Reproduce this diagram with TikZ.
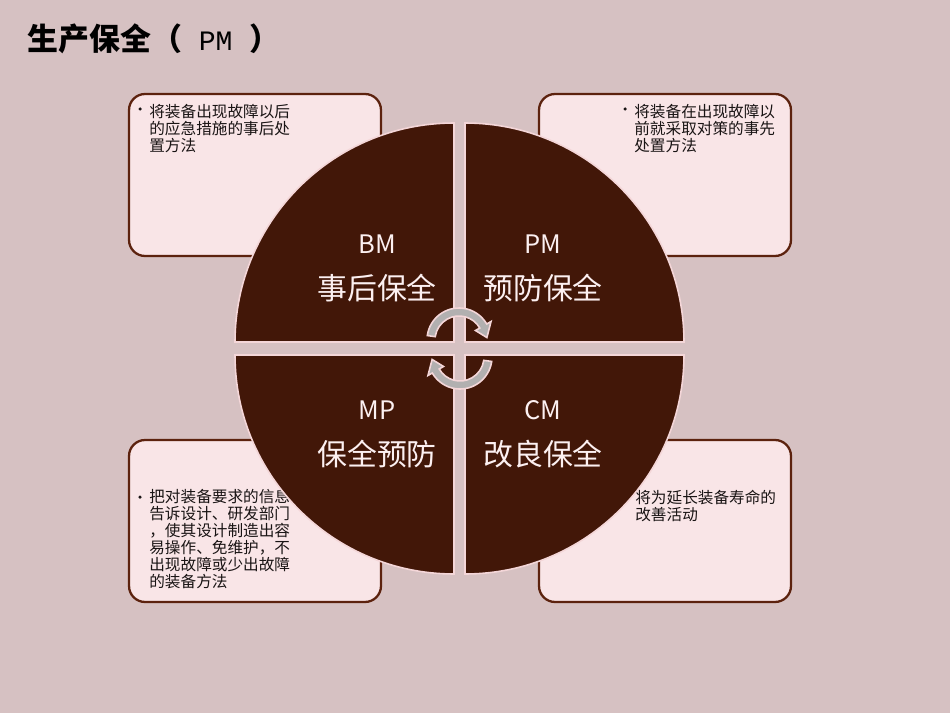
\documentclass[tikz,border=0pt]{standalone}
\usepackage{fontspec}
\setmainfont{Noto Sans CJK SC}
\newfontfamily\titlemono{Liberation Mono}
\definecolor{pagebg}{RGB}{214,193,194}
\definecolor{boxfill}{RGB}{249,229,231}
\definecolor{boxline}{RGB}{92,34,14}
\definecolor{notecol}{RGB}{25,20,20}
\definecolor{quadfill}{RGB}{66,23,8}
\definecolor{edgepink}{RGB}{244,214,216}
\definecolor{labelwhite}{RGB}{252,240,241}
\definecolor{arrowgray}{RGB}{178,176,176}

\begin{document}
\begin{tikzpicture}[
		x=0.02cm, y=-0.02cm,
		infobox/.style={draw=boxline, fill=boxfill, line width=1.3pt, rounded corners=0.32cm, minimum width=5.04cm, minimum height=3.24cm, inner sep=0},
		boxtext/.style={anchor=north west, align=left, inner sep=0, text=notecol, font=\fontsize{8.9}{9.7}\selectfont},
		bulletmark/.style={circle, fill=notecol, inner sep=0, minimum size=0.07cm},
		quarter/.style={fill=quadfill, draw=edgepink, line width=0.9pt},
		abbr/.style={text=labelwhite, font=\fontsize{14.5}{16}\selectfont},
		term/.style={text=labelwhite, font=\fontsize{17}{19}\selectfont},
		cyclearrow/.style={fill=arrowgray, draw=edgepink, line width=0.9pt},
	]
	\fill[pagebg] (0,0) rectangle (950,713);
	\node[anchor=west, inner sep=0, font=\fontsize{17.6}{20}\selectfont] (title) at (27,39) {\bfseries 生产保全（{\titlemono\fontsize{16}{20}\selectfont\mdseries\ PM\ }）};

	% the four notes
	\node[infobox] (bmbox) at (255,175) {};
	\node[infobox] (pmbox) at (665,175) {};
	\node[infobox] (mpbox) at (255,521) {};
	\node[infobox] (cmbox) at (665,521) {};
	\node[bulletmark] (bmdot) at (140,109) {};
	\node[boxtext] (bmnote) at (149,104) {将装备出现故障以后\\的应急措施的事后处\\置方法};
	\node[bulletmark] (pmdot) at (625,109) {};
	\node[boxtext] (pmnote) at (634,104) {将装备在出现故障以\\前就采取对策的事先\\处置方法};
	\node[bulletmark] (mpdot) at (140,497) {};
	\node[boxtext] (mpnote) at (149,489) {把对装备要求的信息\\告诉设计、研发部门\\，使其设计制造出容\\易操作、免维护，不\\出现故障或少出故障\\的装备方法};
	\node[boxtext] (cmnote) at (635,490) {将为延长装备寿命的\\改善活动};

	% circle in four parts
	\draw[quarter] (454,342) -- ++(-219,0) arc[start angle=180, end angle=270, radius=219] -- cycle;
	\draw[quarter] (465,342) -- ++(219,0) arc[start angle=0, end angle=-90, radius=219] -- cycle;
	\draw[quarter] (454,355) -- ++(-219,0) arc[start angle=180, end angle=90, radius=219] -- cycle;
	\draw[quarter] (465,355) -- ++(219,0) arc[start angle=0, end angle=90, radius=219] -- cycle;

	\node[abbr] (bmcode) at (377,244) {BM};
	\node[term] (bmname) at (377,288) {事后保全};
	\node[abbr] (pmcode) at (543,244) {PM};
	\node[term] (pmname) at (543,288) {预防保全};
	\node[abbr] (mpcode) at (377,410) {MP};
	\node[term] (mpname) at (377,454) {保全预防};
	\node[abbr] (cmcode) at (543,410) {CM};
	\node[term] (cmname) at (543,454) {改良保全};

	% cycle arrows
	\draw[cyclearrow, shift={(459,340)}] (188:32) arc[start angle=188, end angle=330, radius=32] -- (330:37) -- (355:28) -- (330:19) -- (330:24) arc[start angle=330, end angle=188, radius=24] -- cycle;
	\draw[cyclearrow, shift={(460,357)}] (8:32) arc[start angle=8, end angle=150, radius=32] -- (150:37) -- (175:28) -- (150:19) -- (150:24) arc[start angle=150, end angle=8, radius=24] -- cycle;
\end{tikzpicture}
\end{document}
